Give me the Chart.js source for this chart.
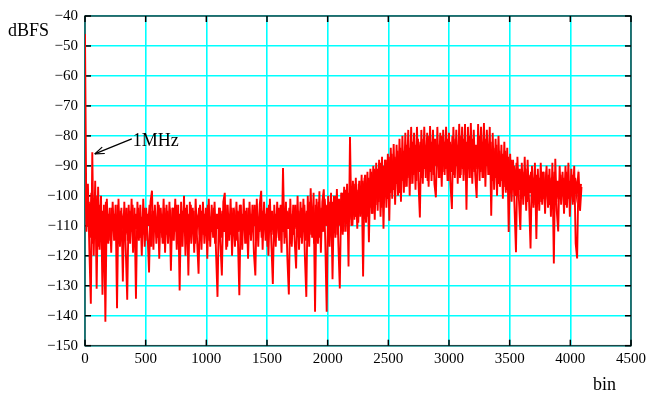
<!DOCTYPE html>
<html lang="en">
<head>
<meta charset="UTF-8">
<title>Output spectrum (dBFS vs bin)</title>
<script src="https://cdn.jsdelivr.net/npm/chart.js"></script>
<style>
    html, body { margin: 0; padding: 0; background: #fff; }
    #spectrum { display: block; }
</style>
</head>
<body>
<canvas id="spectrum" width="650" height="396"></canvas>
<script>
// one value every 12 bins (outer edges of the noise band and the spikes)
const binStep = 12;
const dbfs = [
    -46, -112, -96, -118, -136, -85.5, -120, -95, -131, -97,
    -118, -100, -133, -103, -142, -101, -116, -104, -119, -102,
    -115, -103, -137.5, -101, -117, -104, -128.6, -102, -118, -134.7,
    -103, -116, -101, -119, -104, -134.3, -102, -115, -103, -120,
    -101, -117, -104, -113, -125.6, -102, -98.3, -118, -103, -116,
    -102, -121, -104, -114, -101, -119, -103, -116, -102, -125,
    -104, -115, -101, -118, -103, -131.6, -102, -117, -100, -120,
    -103, -126.6, -102, -116, -104, -119, -101, -115, -126, -103,
    -118, -102, -116, -104, -121, -101, -117, -103, -114, -102,
    -119, -133.7, -104, -116, -126.6, -102, -99, -118, -103, -115,
    -101, -120, -104, -117, -102, -114, -133.2, -103, -118, -101,
    -116, -104, -121, -102, -115, -103, -119, -126.6, -101, -117,
    -103, -98.3, -118, -102, -115, -104, -120, -101, -116, -129.4,
    -103, -117, -102, -114, -104, -119, -90.7, -116, -102, -121,
    -132.9, -101, -117, -103, -115, -124.2, -100, -118, -102, -116,
    -101, -120, -133.7, -100, -117, -97.5, -114, -99, -138.7, -101,
    -116, -98.5, -119, -102, -97.8, -115, -138.7, -100, -117, -99,
    -127.8, -100, -114, -97.7, -116, -130.9, -99, -113, -97, -112,
    -96, -123.6, -80.4, -110, -95, -108, -94, -111, -96, -107,
    -93, -126.9, -94, -109, -92, -115.5, -91, -106, -90, -108,
    -89, -105, -88, -107, -87, -111, -88, -104, -86, -108.3,
    -84, -101, -82.7, -103, -83, -100, -81, -102, -80, -99,
    -79, -97, -78, -100, -77, -96, -79, -98, -77, -95,
    -107.2, -78, -96, -77, -94, -79, -97, -76.7, -95, -78,
    -96, -100.5, -77, -94, -79, -97, -78, -93, -77, -95,
    -79, -96, -104.4, -77, -94, -78, -96, -76, -93, -77,
    -95, -76, -104.6, -77, -94, -75.7, -96, -78, -93, -100.7,
    -76, -95, -77, -94, -75.7, -97, -78, -93, -77, -106.6,
    -79, -98, -81, -100, -80, -97, -83, -101, -82, -99,
    -84, -112.1, -86, -102, -88, -104, -118.8, -87, -101, -111.4,
    -89, -103, -87, -105, -88, -102, -117.6, -90, -104, -89,
    -114.4, -91, -105, -89, -103, -92, -106, -90, -104, -91,
    -107, -89, -122.6, -87.6, -105, -111.9, -90, -103, -92, -106,
    -90, -104, -89, -107, -91, -103, -90, -115.9, -120.9, -92,
    -105, -97
];
// the bins in between (6, 18, 30, ...): the dense middle of the band
const dbfsInner = [
    -98, -110, -102, -114, -99, -116, -104, -112, -100, -117,
    -103, -113, -105, -118, -102, -112, -106, -115, -104, -111,
    -106, -114, -103, -116, -105, -110, -107, -113, -104, -115,
    -105, -112, -103, -116, -106, -111, -104, -114, -107, -113,
    -104, -115, -106, -110, -103, -117, -105, -112, -107, -114,
    -103, -111, -106, -116, -104, -113, -105, -110, -107, -115,
    -104, -112, -103, -114, -106, -117, -105, -111, -104, -113,
    -106, -115, -103, -112, -105, -116, -107, -110, -104, -114,
    -105, -113, -106, -111, -103, -115, -107, -112, -104, -116,
    -106, -111, -104, -114, -105, -112, -103, -117, -106, -113,
    -104, -110, -107, -115, -105, -112, -103, -114, -106, -111,
    -105, -116, -104, -113, -106, -110, -103, -115, -107, -112,
    -104, -114, -105, -111, -106, -117, -103, -112, -105, -113,
    -106, -110, -104, -115, -103, -112, -107, -114, -105, -111,
    -104, -116, -106, -113, -103, -111, -105, -114, -104, -112,
    -103, -115, -105, -110, -102, -113, -104, -116, -103, -111,
    -102, -114, -104, -112, -101, -110, -103, -115, -102, -112,
    -102, -111, -100, -113, -101, -110, -99, -112, -98, -109,
    -99, -108, -97, -110, -96, -107, -98, -109, -95, -106,
    -95, -105, -93, -107, -94, -104, -92, -106, -91, -103,
    -91, -102, -89, -104, -90, -100, -88, -101, -87, -99,
    -86, -98, -87, -96, -85, -99, -84, -95, -85, -97,
    -83, -94, -84, -96, -82, -93, -83, -95, -81, -92,
    -82, -94, -81, -91, -83, -95, -80, -92, -82, -93,
    -81, -90, -83, -94, -80, -92, -82, -91, -81, -95,
    -82, -92, -80, -93, -81, -90, -83, -94, -80, -91,
    -81, -93, -82, -90, -80, -94, -81, -92, -83, -91,
    -80, -92, -82, -94, -81, -90, -83, -93, -82, -95,
    -84, -94, -83, -96, -85, -95, -86, -97, -85, -98,
    -87, -99, -88, -97, -90, -100, -89, -98, -91, -101,
    -92, -100, -91, -102, -93, -99, -92, -101, -94, -103,
    -93, -100, -94, -102, -92, -101, -95, -99, -93, -103,
    -94, -100, -92, -102, -95, -101, -93, -99, -94, -103,
    -92, -101, -95, -100, -93, -102, -94, -99, -95, -101,
    -96
];

const xTicks = [0, 500, 1000, 1500, 2000, 2500, 3000, 3500, 4000, 4500];
const yTicks = [-150, -140, -130, -120, -110, -100, -90, -80, -70, -60, -50, -40];
const yTitle = 'dBFS';
const xTitle = 'bin';
const markerBin = 60;
const markerLabel = '1MHz';

const serif = '"Liberation Serif", "Times New Roman", serif';
const minus = v => (v < 0 ? '\u2212' + Math.abs(v) : String(v));
const red = '#ff0000';

function line(ctx, x1, y1, x2, y2) {
    ctx.beginPath();
    ctx.moveTo(x1, y1);
    ctx.lineTo(x2, y2);
    ctx.stroke();
}

// frame with inward tick marks, titles and the 1MHz arrow
const decorations = {
    id: 'decorations',
    beforeDatasetsDraw(chart) {
        const { ctx, chartArea: a, scales: { x, y } } = chart;
        ctx.save();
        ctx.strokeStyle = '#1e4646';
        ctx.lineWidth = 1.5;
        ctx.strokeRect(a.left, a.top, a.width, a.height);
        ctx.strokeStyle = '#000';
        xTicks.forEach(v => {
            const px = x.getPixelForValue(v);
            line(ctx, px, a.bottom, px, a.bottom - 6);
            line(ctx, px, a.top, px, a.top + 6);
        });
        yTicks.forEach(v => {
            const py = y.getPixelForValue(v);
            line(ctx, a.left, py, a.left + 6, py);
            line(ctx, a.right, py, a.right - 6, py);
        });
        ctx.restore();
    },
    afterDraw(chart) {
        const { ctx, scales: { x, y } } = chart;
        ctx.save();
        ctx.fillStyle = '#000';
        ctx.font = '18px ' + serif;
        ctx.textBaseline = 'middle';
        ctx.textAlign = 'left';
        ctx.fillText(yTitle, 8, 31);
        ctx.fillText(xTitle, 593, 385);

        // arrow to the 1MHz tone
        const idx = markerBin / binStep;
        const tx = x.getPixelForValue(markerBin) + 2.5;
        const ty = y.getPixelForValue(dbfs[idx]) + 1.5;
        const sx = tx + 37, sy = ty - 15;
        ctx.strokeStyle = '#000';
        ctx.lineWidth = 1.2;
        line(ctx, sx, sy, tx, ty);
        const ang = Math.atan2(sy - ty, sx - tx);
        [0.35, -0.35].forEach(d => {
            line(ctx, tx, ty, tx + 10 * Math.cos(ang + d), ty + 10 * Math.sin(ang + d));
        });
        ctx.fillText(markerLabel, tx + 38, ty - 13);
        ctx.restore();
    }
};

new Chart(document.getElementById('spectrum'), {
    type: 'line',
    data: {
        datasets: [
            {
                data: dbfsInner.map((v, i) => ({ x: binStep / 2 + i * binStep, y: v })),
                borderColor: red,
                borderWidth: 2.4,
                pointRadius: 0,
                tension: 0,
                fill: false
            },
            {
                data: dbfs.map((v, i) => ({ x: i * binStep, y: v })),
                borderColor: red,
                borderWidth: 1.9,
                pointRadius: 0,
                tension: 0,
                fill: false
            }
        ]
    },
    options: {
        responsive: false,
        animation: false,
        layout: { padding: { left: 0, right: 17.5, top: 14.5, bottom: 0 } },
        plugins: { legend: { display: false }, tooltip: { enabled: false } },
        scales: {
            x: {
                type: 'linear',
                min: xTicks[0],
                max: xTicks[xTicks.length - 1],
                afterBuildTicks: s => { s.ticks = xTicks.map(v => ({ value: v })); },
                afterFit: s => { s.height = 50.3; },
                grid: { color: '#00ffff', lineWidth: 1.6, drawTicks: false },
                border: { display: false },
                ticks: {
                    padding: 4,
                    color: '#000',
                    maxRotation: 0,
                    autoSkip: false,
                    font: { family: serif, size: 15 },
                    callback: v => minus(v)
                }
            },
            y: {
                type: 'linear',
                min: yTicks[0],
                max: yTicks[yTicks.length - 1],
                afterBuildTicks: s => { s.ticks = yTicks.map(v => ({ value: v })); },
                afterFit: s => { s.width = 85; },
                grid: { color: '#00ffff', lineWidth: 1.6, drawTicks: false },
                border: { display: false },
                ticks: {
                    padding: 7,
                    color: '#000',
                    autoSkip: false,
                    font: { family: serif, size: 15 },
                    callback: v => minus(v)
                }
            }
        }
    },
    plugins: [decorations]
});
</script>
</body>
</html>
